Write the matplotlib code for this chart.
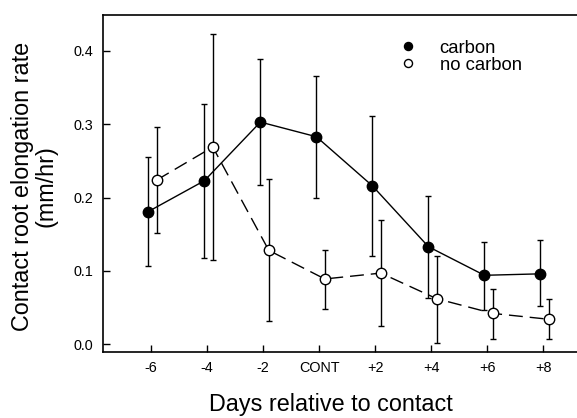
import matplotlib
matplotlib.use("Agg")
import matplotlib.pyplot as plt
from matplotlib.lines import Line2D

plt.rcParams['font.family'] = ['Liberation Sans', 'DejaVu Sans']

tick_labels = ['-6', '-4', '-2', 'CONT', '+2', '+4', '+6', '+8']
carbon = [0.181, 0.223, 0.303, 0.283, 0.216, 0.133, 0.094, 0.096]
carbon_hi = [0.255, 0.328, 0.389, 0.366, 0.311, 0.202, 0.139, 0.142]
carbon_lo = [0.107, 0.117, 0.217, 0.199, 0.120, 0.063, 0.047, 0.052]
nocarbon = [0.224, 0.269, 0.128, 0.089, 0.097, 0.062, 0.042, 0.034]
nocarbon_hi = [0.296, 0.423, 0.225, 0.128, 0.169, 0.121, 0.075, 0.061]
nocarbon_lo = [0.152, 0.115, 0.032, 0.048, 0.025, 0.002, 0.007, 0.007]

pos = list(range(1, len(tick_labels) + 1))
xc = [p - 0.05 for p in pos]
xn = [p + 0.10 for p in pos]

fig = plt.figure(figsize=(5.77, 4.18), dpi=100)
ax = fig.add_axes([0.1785, 0.159, 0.83, 0.805])

c_err = [[v - l for v, l in zip(carbon, carbon_lo)], [h - v for v, h in zip(carbon, carbon_hi)]]
n_err = [[v - l for v, l in zip(nocarbon, nocarbon_lo)], [h - v for v, h in zip(nocarbon, nocarbon_hi)]]

ax.errorbar(xn, nocarbon, yerr=n_err, fmt='o', linestyle=(0, (10, 5)), color='black',
            mfc='white', mec='black', ms=7.5, mew=1.0, lw=1.0, elinewidth=1.0,
            capsize=2.3, capthick=1.0, zorder=3)
ax.errorbar(xc, carbon, yerr=c_err, fmt='o', linestyle='-', color='black',
            mfc='black', mec='black', ms=7.5, lw=1.0, elinewidth=1.0,
            capsize=2.3, capthick=1.0, zorder=4)

ax.set_xlim(0.14, 8.69)
ax.set_ylim(-0.01, 0.449)
ax.set_xticks(pos)
ax.set_xticklabels(tick_labels)
ax.set_yticks([0.0, 0.1, 0.2, 0.3, 0.4])
ax.set_yticklabels(['0.0', '0.1', '0.2', '0.3', '0.4'])
ax.tick_params(axis='x', direction='in', length=5, width=1, labelsize=10.4, pad=7)
ax.tick_params(axis='y', direction='in', length=5, width=1, labelsize=10.4, pad=7)
ax.spines['right'].set_visible(False)
for s in ['left', 'top', 'bottom']:
    ax.spines[s].set_linewidth(1.2)

ax.set_xlabel('Days relative to contact', fontsize=16.8, va='baseline')
ax.xaxis.set_label_coords(0.476, -0.178)
ax.set_ylabel('Contact root elongation rate\n(mm/hr)', fontsize=16.8, linespacing=1.0)
ax.yaxis.set_label_coords(-0.096, 0.492)

handles = [Line2D([], [], marker='o', linestyle='none', mfc='black', mec='black', ms=5.8),
           Line2D([], [], marker='o', linestyle='none', mfc='white', mec='black', ms=5.8)]
ax.legend(handles, ['carbon', 'no carbon'], loc='upper left', bbox_to_anchor=(0.617, 0.927),
          frameon=False, fontsize=13.3, handlelength=1.0, handletextpad=1.23,
          labelspacing=0.0, borderpad=0, borderaxespad=0)

fig.savefig('out.png', dpi=100)
